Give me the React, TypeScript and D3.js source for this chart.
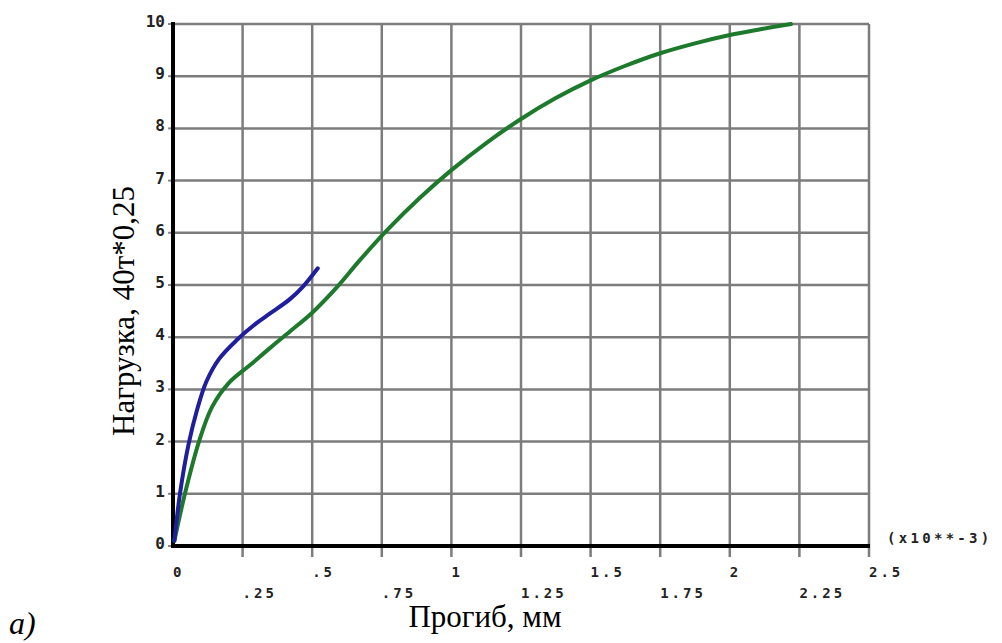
import React from "react";
import * as d3 from "d3";

const blueX = [0.005, 0.025, 0.056, 0.086, 0.12, 0.165, 0.23, 0.3, 0.35, 0.42, 0.467, 0.52];
const blueY = [0.1, 1.0, 1.95, 2.6, 3.15, 3.58, 3.95, 4.27, 4.46, 4.73, 4.97, 5.32];

const greenX = [0.005, 0.045, 0.095, 0.14, 0.2, 0.28, 0.35, 0.42, 0.5, 0.589, 0.672, 0.769, 0.887, 1.0, 1.125, 1.25, 1.375, 1.5, 1.625, 1.75, 1.875, 2.0, 2.11, 2.22];
const greenY = [0.1, 1.05, 2.03, 2.66, 3.12, 3.48, 3.8, 4.11, 4.47, 4.96, 5.48, 6.05, 6.67, 7.2, 7.72, 8.18, 8.58, 8.92, 9.2, 9.44, 9.63, 9.79, 9.9, 10.0];

const xTicksUpper = [0, 0.5, 1, 1.5, 2, 2.5];
const xTickUpperLabels = ["0", ".5", "1", "1.5", "2", "2.5"];
const xTicksLower = [0.25, 0.75, 1.25, 1.75, 2.25];
const xTickLowerLabels = [".25", ".75", "1.25", "1.75", "2.25"];
const yTicks = [0, 1, 2, 3, 4, 5, 6, 7, 8, 9, 10];

const yTitle = "Нагрузка, 40т*0,25";
const xTitle = "Прогиб, мм";
const xScaleNote = "(x10**-3)";
const panelLabel = "a)";

export default function App() {
  const W = 1002, H = 643;
  const x = d3.scaleLinear().domain([0, 2.5]).range([173, 869]);
  const y = d3.scaleLinear().domain([0, 10]).range([546, 24]);
  const line = d3
    .line<[number, number]>()
    .x((d) => x(d[0]))
    .y((d) => y(d[1]))
    .curve(d3.curveCatmullRom.alpha(0.5));
  const blue = blueX.map((v, i) => [v, blueY[i]] as [number, number]);
  const green = greenX.map((v, i) => [v, greenY[i]] as [number, number]);
  const allX = [...xTicksUpper, ...xTicksLower].filter((v) => v > 0).sort((a, b) => a - b);
  const monoStyle = {
    fontFamily: "'DejaVu Sans Mono', monospace",
    fontWeight: "bold" as const,
    fill: "#222",
  };
  return (
    <svg width={W} height={H} style={{ position: "absolute", left: 0, top: 0, background: "#fff" }}>
      <rect x={0} y={0} width={W} height={H} fill="#fff" />
      {yTicks.filter((v) => v > 0).map((v) => (
        <line key={"h" + v} x1={x(0)} x2={x(2.5)} y1={y(v)} y2={y(v)} stroke="#7c7c7c" strokeWidth={2.5} />
      ))}
      {allX.map((v) => (
        <line key={"v" + v} x1={x(v)} x2={x(v)} y1={y(10)} y2={y(0) + 11} stroke="#7c7c7c" strokeWidth={2.5} />
      ))}
      {yTicks.map((v) => (
        <line key={"yt" + v} x1={x(0) - 5} x2={x(0)} y1={y(v)} y2={y(v)} stroke="#888" strokeWidth={2} />
      ))}
      <line x1={x(0)} x2={x(0)} y1={y(10) - 2} y2={y(0) + 2} stroke="#000" strokeWidth={4} />
      <line x1={x(0) - 2} x2={x(2.5) + 1} y1={y(0)} y2={y(0)} stroke="#000" strokeWidth={4} />
      <path d={line(green) || ""} fill="none" stroke="#1d7a2c" strokeWidth={4} strokeLinecap="round" />
      <path d={line(blue) || ""} fill="none" stroke="#1e1e9e" strokeWidth={4} strokeLinecap="round" />
      {yTicks.map((v) => (
        <text key={"yl" + v} x={165} y={y(v) + 3} textAnchor="end" fontSize={16} style={monoStyle}>
          {v}
        </text>
      ))}
      {xTicksUpper.map((v, i) => (
        <text key={"xu" + v} x={x(v)} y={577} fontSize={14} letterSpacing={3} style={monoStyle}>
          {xTickUpperLabels[i]}
        </text>
      ))}
      {xTicksLower.map((v, i) => (
        <text key={"xl" + v} x={x(v)} y={598} fontSize={14} letterSpacing={3} style={monoStyle}>
          {xTickLowerLabels[i]}
        </text>
      ))}
      <text x={887} y={543} fontSize={14} letterSpacing={3.3} style={monoStyle}>
        {xScaleNote}
      </text>
      <text
        transform="translate(134,311) rotate(-90)"
        textAnchor="middle"
        fontSize={31}
        fontFamily="'Liberation Serif', serif"
        fill="#000"
      >
        {yTitle}
      </text>
      <text x={485} y={627} textAnchor="middle" fontSize={31} fontFamily="'Liberation Serif', serif" fill="#000">
        {xTitle}
      </text>
      <text x={9} y={634} fontSize={32} fontStyle="italic" fontFamily="'Liberation Serif', serif" fill="#000">
        {panelLabel}
      </text>
    </svg>
  );
}
